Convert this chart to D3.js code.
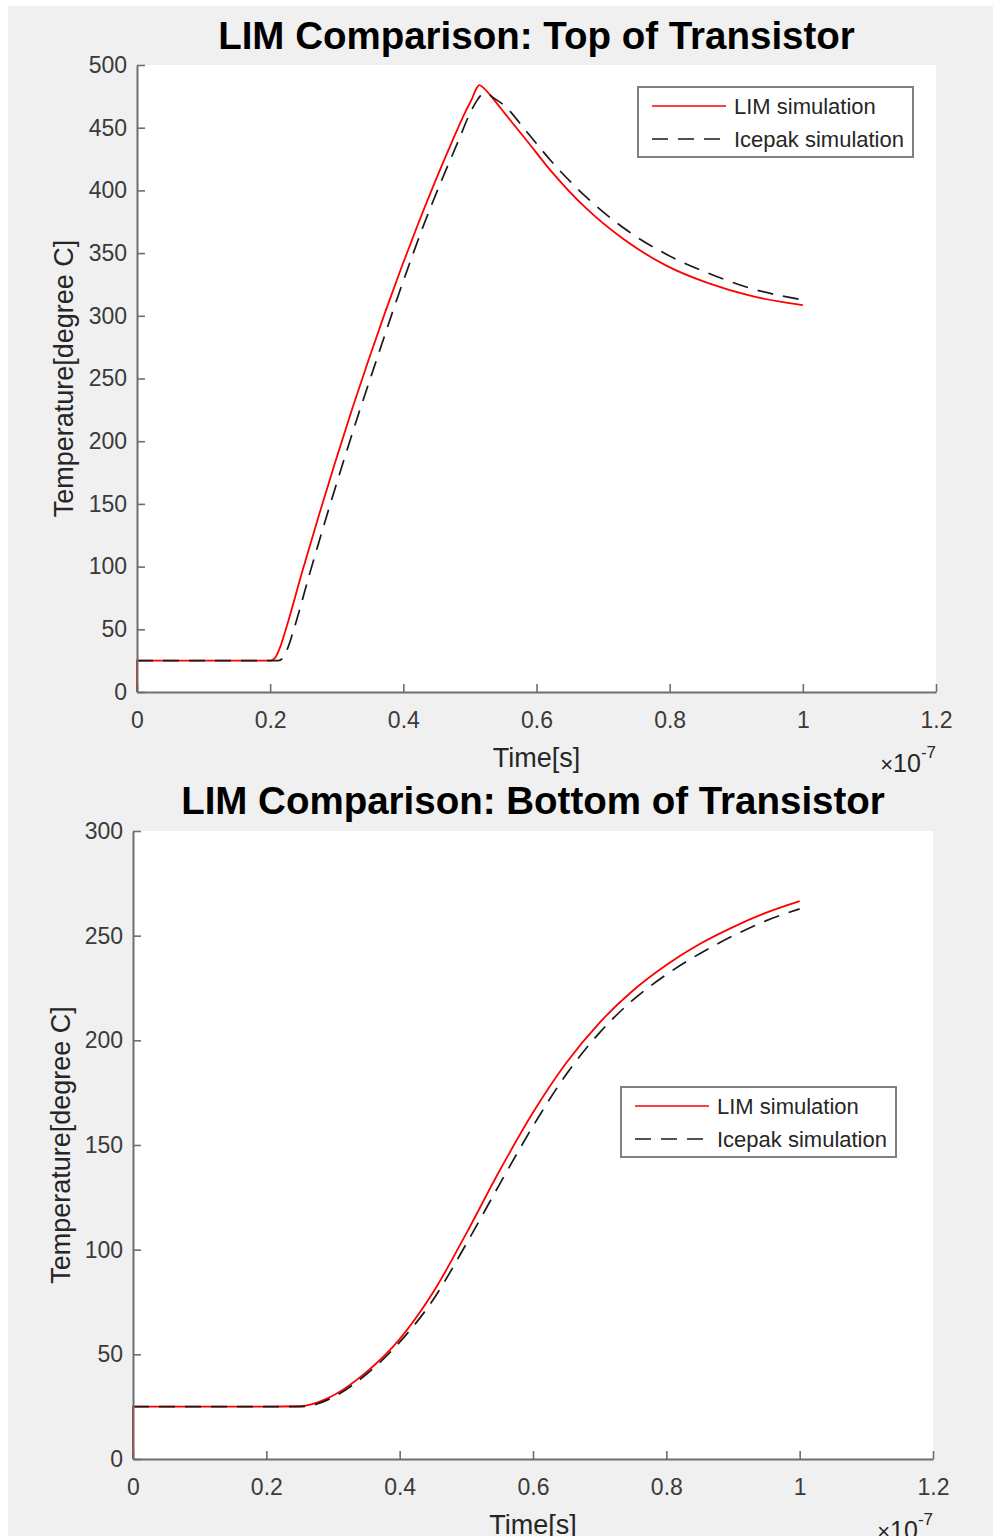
<!DOCTYPE html>
<html>
<head>
<meta charset="utf-8">
<script src="https://cdn.jsdelivr.net/npm/d3@7/dist/d3.min.js"></script>
<style>
  html, body { margin: 0; padding: 0; background: #ffffff; }
  svg { display: block; }
  text { font-family: "Liberation Sans", Arial, Helvetica, sans-serif; }
</style>
</head>
<body>
<svg id="fig" width="993" height="1536"></svg>
<script>
// Time axis in units of 1e-7 s, temperature in degree C

// Top of transistor: LIM model
const topLimTime = [0, 0, 0.1, 0.2, 0.207, 0.214, 0.223, 0.248, 0.273, 0.298, 0.323, 0.348, 0.373, 0.398, 0.423, 0.448, 0.473, 0.493, 0.503, 0.509, 0.514, 0.522, 0.535, 0.553, 0.585, 0.621, 0.674, 0.731, 0.795, 0.858, 0.921, 1.0];
const topLimTemp = [0, 25, 25, 25, 27, 34.5, 49, 95.6, 140.6, 183.8, 225.4, 265.2, 303.3, 339.7, 374.4, 407.4, 438.7, 462.5, 473, 480.5, 484, 481, 473, 461, 440, 416, 386, 361, 340, 326, 316, 308.5];

// Top of transistor: Icepak model
const topIceTime = [0, 0.1, 0.2, 0.212, 0.219, 0.226, 0.235, 0.26, 0.285, 0.31, 0.335, 0.36, 0.384, 0.408, 0.432, 0.457, 0.482, 0.501, 0.511, 0.518, 0.524, 0.535, 0.553, 0.585, 0.621, 0.674, 0.731, 0.795, 0.858, 0.921, 1.0];
const topIceTemp = [25, 25, 25, 25, 27, 34.5, 49, 95.6, 140.6, 183.8, 225.4, 265.2, 303.3, 339.7, 374.4, 407.4, 438.7, 462.5, 472, 476.5, 477.5, 474, 467, 447, 424, 395, 370, 349, 334, 322, 312.6];

// Bottom of transistor: LIM model
const botLimTime = [0, 0, 0.1, 0.2, 0.25, 0.27, 0.29, 0.35, 0.4, 0.45, 0.5, 0.55, 0.6, 0.65, 0.7, 0.75, 0.8, 0.85, 0.9, 0.95, 1.0];
const botLimTemp = [0, 25, 25, 25, 25.2, 26.3, 28.7, 41.5, 57.3, 79.5, 107.8, 137.8, 165.5, 189.3, 208.5, 223.8, 236, 246, 254.1, 261, 266.5];

// Bottom of transistor: Icepak model
const botIceTime = [0, 0.1, 0.2, 0.25, 0.275, 0.3, 0.35, 0.4, 0.45, 0.5, 0.55, 0.6, 0.65, 0.7, 0.75, 0.8, 0.85, 0.9, 0.95, 1.0];
const botIceTemp = [25, 25, 25, 25, 26.2, 29.5, 40.5, 55.8, 76, 102.8, 131.3, 159, 183.8, 203.7, 219.3, 231.4, 241.4, 249.9, 257.2, 262.8];

// Axis ticks and labels
const xTicks = [0, 0.2, 0.4, 0.6, 0.8, 1.0, 1.2];
const xTickLabels = ["0", "0.2", "0.4", "0.6", "0.8", "1", "1.2"];
const topYTicks = [0, 50, 100, 150, 200, 250, 300, 350, 400, 450, 500];
const botYTicks = [0, 50, 100, 150, 200, 250, 300];

const seriesNames = ["LIM simulation", "Icepak simulation"];
const titles = ["LIM Comparison: Top of Transistor", "LIM Comparison: Bottom of Transistor"];
const xLabel = "Time[s]";
const yLabel = "Temperature[degree C]";

const svg = d3.select("#fig");

// figure background
svg.append("rect").attr("x", 8).attr("y", 6).attr("width", 985).attr("height", 1530).attr("fill", "#f0f0f0");

const zip = (xs, ys) => xs.map((x, i) => [x, ys[i]]);

function drawPanel(cfg) {
  const x = d3.scaleLinear().domain([0, 1.2]).range([cfg.left, cfg.right]);
  const y = d3.scaleLinear().domain([0, cfg.yMax]).range([cfg.bottom, cfg.top]);
  const g = svg.append("g");

  // axes area
  g.append("rect")
    .attr("x", cfg.left).attr("y", cfg.top)
    .attr("width", cfg.right - cfg.left).attr("height", cfg.bottom - cfg.top)
    .attr("fill", "#ffffff");

  // data lines
  const line = d3.line().x(d => x(d[0])).y(d => y(d[1])).curve(d3.curveMonotoneX);
  g.append("path").datum(zip(cfg.limT, cfg.limV))
    .attr("d", line).attr("fill", "none")
    .attr("stroke", "#ff0000").attr("stroke-width", 1.8);
  g.append("path").datum(zip(cfg.iceT, cfg.iceV))
    .attr("d", line).attr("fill", "none")
    .attr("stroke", "#1a1a1a").attr("stroke-width", 1.7)
    .attr("stroke-dasharray", "16,10");

  // axes
  const xAxis = d3.axisBottom(x).tickValues(xTicks)
    .tickFormat((d, i) => xTickLabels[i]).tickSizeInner(-8).tickSizeOuter(0).tickPadding(20);
  const yAxis = d3.axisLeft(y).tickValues(cfg.yTicks)
    .tickFormat(d => String(d)).tickSizeInner(-8).tickSizeOuter(0).tickPadding(10);

  const gx = g.append("g").attr("transform", `translate(0,${cfg.bottom})`).call(xAxis);
  const gy = g.append("g").attr("transform", `translate(${cfg.left},0)`).call(yAxis);
  [gx, gy].forEach(a => {
    a.select(".domain").attr("stroke", "#6e6e6e").attr("stroke-width", 2);
    a.selectAll(".tick line").attr("stroke", "#6e6e6e").attr("stroke-width", 1.6);
    a.selectAll(".tick text").attr("fill", "#3a3a3a")
      .style("font-family", "'Liberation Sans', Arial, sans-serif").style("font-size", "23px");
  });

  // title
  g.append("text")
    .attr("x", (cfg.left + cfg.right) / 2).attr("y", cfg.titleY)
    .attr("text-anchor", "middle").attr("font-weight", "bold")
    .attr("font-size", 38.5).attr("fill", "#000")
    .text(cfg.title);

  // x label
  g.append("text")
    .attr("x", (cfg.left + cfg.right) / 2).attr("y", cfg.bottom + 75)
    .attr("text-anchor", "middle").attr("font-size", 27).attr("fill", "#262626")
    .text(xLabel);

  // exponent marker
  const ex = g.append("text")
    .attr("x", cfg.right).attr("y", cfg.bottom + 80)
    .attr("text-anchor", "end").attr("fill", "#262626");
  ex.append("tspan").attr("font-size", 22).text("\u00d7");
  ex.append("tspan").attr("font-size", 25).text("10");
  ex.append("tspan").attr("font-size", 17).attr("dy", -14).text("-7");

  // y label
  g.append("text")
    .attr("transform", `translate(${cfg.yLabelX},${(cfg.top + cfg.bottom) / 2}) rotate(-90)`)
    .attr("text-anchor", "middle").attr("font-size", 27).attr("fill", "#262626")
    .text(yLabel);

  // legend
  const lg = g.append("g").attr("transform", `translate(${cfg.legX},${cfg.legY})`);
  lg.append("rect").attr("x", 0).attr("y", 0).attr("width", 275).attr("height", 70)
    .attr("fill", "#ffffff").attr("stroke", "#808080").attr("stroke-width", 2);
  const entries = [
    { name: seriesNames[0], color: "#ff0000", dash: null, dy: 19 },
    { name: seriesNames[1], color: "#1a1a1a", dash: "16,10", dy: 52 }
  ];
  entries.forEach(e => {
    lg.append("line").attr("x1", 14).attr("x2", 88).attr("y1", e.dy).attr("y2", e.dy)
      .attr("stroke", e.color).attr("stroke-width", 1.7)
      .attr("stroke-dasharray", e.dash);
    lg.append("text").attr("x", 96).attr("y", e.dy + 8)
      .attr("font-size", 22).attr("fill", "#262626").text(e.name);
  });
}

drawPanel({
  left: 137, right: 936, top: 65, bottom: 692, yMax: 500, yTicks: topYTicks,
  limT: topLimTime, limV: topLimTemp, iceT: topIceTime, iceV: topIceTemp,
  title: titles[0], titleY: 49, yLabelX: 73, legX: 638, legY: 87
});

drawPanel({
  left: 133, right: 933, top: 831, bottom: 1459, yMax: 300, yTicks: botYTicks,
  limT: botLimTime, limV: botLimTemp, iceT: botIceTime, iceV: botIceTemp,
  title: titles[1], titleY: 814, yLabelX: 70, legX: 621, legY: 1087
});
</script>
</body>
</html>
